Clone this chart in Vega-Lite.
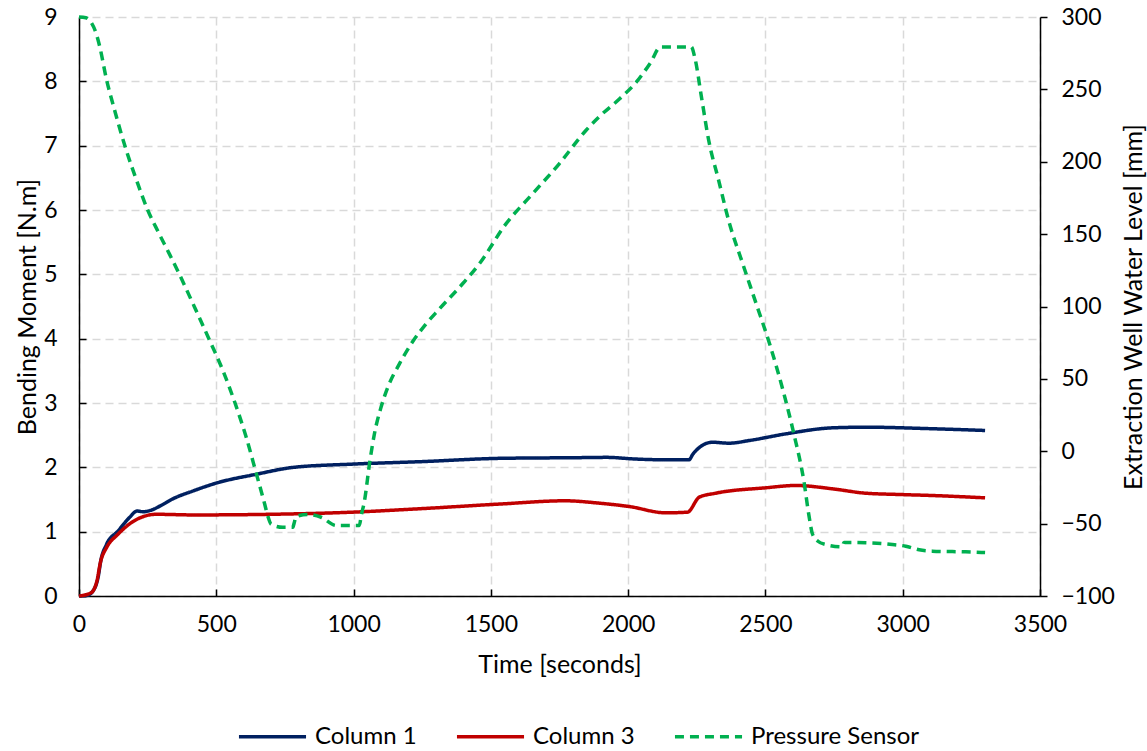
{
  "$schema": "https://vega.github.io/schema/vega-lite/v6.json",
  "width": 961,
  "height": 579,
  "autosize": {"type": "none"},
  "padding": {"left": 79, "top": 17, "right": 107, "bottom": 155},
  "background": "white",
  "config": {
    "font": "Lato",
    "view": {"stroke": null},
    "axis": {
      "labelFont": "Lato",
      "titleFont": "Lato",
      "labelFontSize": 23,
      "titleFontSize": 25,
      "titleFontWeight": "normal",
      "labelColor": "#000000",
      "titleColor": "#000000",
      "domainColor": "#000000",
      "domainWidth": 1.5,
      "tickColor": "#000000",
      "tickWidth": 1.5,
      "gridColor": "#D9D9D9",
      "gridDash": [8, 5],
      "gridWidth": 1.5,
      "format": "d",
      "labelFlush": false
    },
    "legend": {"labelFont": "Lato", "labelFontSize": 24, "labelColor": "#000000", "labelLimit": 400}
  },
  "data": {
    "values": [
      {"s": "Column 1", "t": 0, "v": 0},
      {"s": "Column 1", "t": 30, "v": 0.01},
      {"s": "Column 1", "t": 58, "v": 0.13},
      {"s": "Column 1", "t": 70, "v": 0.3},
      {"s": "Column 1", "t": 79, "v": 0.54},
      {"s": "Column 1", "t": 100, "v": 0.8},
      {"s": "Column 1", "t": 142, "v": 1.01},
      {"s": "Column 1", "t": 184, "v": 1.22},
      {"s": "Column 1", "t": 211, "v": 1.32},
      {"s": "Column 1", "t": 235, "v": 1.31},
      {"s": "Column 1", "t": 260, "v": 1.33},
      {"s": "Column 1", "t": 300, "v": 1.41},
      {"s": "Column 1", "t": 337, "v": 1.5},
      {"s": "Column 1", "t": 420, "v": 1.64},
      {"s": "Column 1", "t": 504, "v": 1.76},
      {"s": "Column 1", "t": 643, "v": 1.89},
      {"s": "Column 1", "t": 782, "v": 2.0},
      {"s": "Column 1", "t": 997, "v": 2.05},
      {"s": "Column 1", "t": 1256, "v": 2.09},
      {"s": "Column 1", "t": 1535, "v": 2.14},
      {"s": "Column 1", "t": 1813, "v": 2.15},
      {"s": "Column 1", "t": 1924, "v": 2.155},
      {"s": "Column 1", "t": 2022, "v": 2.13},
      {"s": "Column 1", "t": 2137, "v": 2.117},
      {"s": "Column 1", "t": 2222, "v": 2.117},
      {"s": "Column 1", "t": 2235, "v": 2.2},
      {"s": "Column 1", "t": 2247, "v": 2.26},
      {"s": "Column 1", "t": 2307, "v": 2.39},
      {"s": "Column 1", "t": 2368, "v": 2.375},
      {"s": "Column 1", "t": 2441, "v": 2.417},
      {"s": "Column 1", "t": 2574, "v": 2.52},
      {"s": "Column 1", "t": 2744, "v": 2.614},
      {"s": "Column 1", "t": 2865, "v": 2.624},
      {"s": "Column 1", "t": 3108, "v": 2.6},
      {"s": "Column 1", "t": 3300, "v": 2.573},
      {"s": "Column 3", "t": 0, "v": 0},
      {"s": "Column 3", "t": 44, "v": 0.05},
      {"s": "Column 3", "t": 65, "v": 0.23},
      {"s": "Column 3", "t": 79, "v": 0.54},
      {"s": "Column 3", "t": 100, "v": 0.75},
      {"s": "Column 3", "t": 142, "v": 0.96},
      {"s": "Column 3", "t": 184, "v": 1.12},
      {"s": "Column 3", "t": 225, "v": 1.22},
      {"s": "Column 3", "t": 281, "v": 1.27},
      {"s": "Column 3", "t": 420, "v": 1.26},
      {"s": "Column 3", "t": 699, "v": 1.27},
      {"s": "Column 3", "t": 977, "v": 1.3},
      {"s": "Column 3", "t": 1256, "v": 1.36},
      {"s": "Column 3", "t": 1535, "v": 1.43},
      {"s": "Column 3", "t": 1771, "v": 1.48},
      {"s": "Column 3", "t": 1895, "v": 1.443},
      {"s": "Column 3", "t": 2004, "v": 1.391},
      {"s": "Column 3", "t": 2137, "v": 1.293},
      {"s": "Column 3", "t": 2216, "v": 1.303},
      {"s": "Column 3", "t": 2259, "v": 1.536},
      {"s": "Column 3", "t": 2319, "v": 1.598},
      {"s": "Column 3", "t": 2501, "v": 1.682},
      {"s": "Column 3", "t": 2611, "v": 1.718},
      {"s": "Column 3", "t": 2744, "v": 1.666},
      {"s": "Column 3", "t": 2865, "v": 1.598},
      {"s": "Column 3", "t": 2986, "v": 1.578},
      {"s": "Column 3", "t": 3108, "v": 1.562},
      {"s": "Column 3", "t": 3300, "v": 1.526},
      {"s": "Pressure Sensor", "t": 0, "v": 300},
      {"s": "Pressure Sensor", "t": 25, "v": 299.5},
      {"s": "Pressure Sensor", "t": 45, "v": 296},
      {"s": "Pressure Sensor", "t": 63, "v": 288.4},
      {"s": "Pressure Sensor", "t": 75, "v": 280},
      {"s": "Pressure Sensor", "t": 100, "v": 257},
      {"s": "Pressure Sensor", "t": 130, "v": 235.4},
      {"s": "Pressure Sensor", "t": 172, "v": 208},
      {"s": "Pressure Sensor", "t": 210, "v": 187},
      {"s": "Pressure Sensor", "t": 251, "v": 166.3},
      {"s": "Pressure Sensor", "t": 290, "v": 151},
      {"s": "Pressure Sensor", "t": 330, "v": 136},
      {"s": "Pressure Sensor", "t": 366, "v": 122.1},
      {"s": "Pressure Sensor", "t": 421, "v": 99.5},
      {"s": "Pressure Sensor", "t": 476, "v": 76.5},
      {"s": "Pressure Sensor", "t": 524, "v": 55.8},
      {"s": "Pressure Sensor", "t": 567, "v": 34},
      {"s": "Pressure Sensor", "t": 609, "v": 9.7},
      {"s": "Pressure Sensor", "t": 646, "v": -15.6},
      {"s": "Pressure Sensor", "t": 676, "v": -36.3},
      {"s": "Pressure Sensor", "t": 688, "v": -45},
      {"s": "Pressure Sensor", "t": 700, "v": -50.5},
      {"s": "Pressure Sensor", "t": 742, "v": -52.5},
      {"s": "Pressure Sensor", "t": 779, "v": -52.5},
      {"s": "Pressure Sensor", "t": 783, "v": -50},
      {"s": "Pressure Sensor", "t": 791, "v": -45.1},
      {"s": "Pressure Sensor", "t": 833, "v": -43.7},
      {"s": "Pressure Sensor", "t": 882, "v": -45.6},
      {"s": "Pressure Sensor", "t": 937, "v": -51.3},
      {"s": "Pressure Sensor", "t": 1021, "v": -51.3},
      {"s": "Pressure Sensor", "t": 1028, "v": -44.4},
      {"s": "Pressure Sensor", "t": 1040, "v": -34},
      {"s": "Pressure Sensor", "t": 1058, "v": -8.7},
      {"s": "Pressure Sensor", "t": 1076, "v": 12.1},
      {"s": "Pressure Sensor", "t": 1100, "v": 30.4},
      {"s": "Pressure Sensor", "t": 1125, "v": 44.3},
      {"s": "Pressure Sensor", "t": 1167, "v": 60.4},
      {"s": "Pressure Sensor", "t": 1210, "v": 74.2},
      {"s": "Pressure Sensor", "t": 1264, "v": 88},
      {"s": "Pressure Sensor", "t": 1313, "v": 98.4},
      {"s": "Pressure Sensor", "t": 1397, "v": 115.7},
      {"s": "Pressure Sensor", "t": 1458, "v": 129.5},
      {"s": "Pressure Sensor", "t": 1555, "v": 157.1},
      {"s": "Pressure Sensor", "t": 1652, "v": 177.9},
      {"s": "Pressure Sensor", "t": 1749, "v": 198.6},
      {"s": "Pressure Sensor", "t": 1846, "v": 221.6},
      {"s": "Pressure Sensor", "t": 1894, "v": 231},
      {"s": "Pressure Sensor", "t": 1969, "v": 243.5},
      {"s": "Pressure Sensor", "t": 2031, "v": 255.3},
      {"s": "Pressure Sensor", "t": 2081, "v": 268.3},
      {"s": "Pressure Sensor", "t": 2118, "v": 279.3},
      {"s": "Pressure Sensor", "t": 2230, "v": 279.3},
      {"s": "Pressure Sensor", "t": 2243, "v": 271.8},
      {"s": "Pressure Sensor", "t": 2268, "v": 243.5},
      {"s": "Pressure Sensor", "t": 2293, "v": 215.2},
      {"s": "Pressure Sensor", "t": 2330, "v": 186.9},
      {"s": "Pressure Sensor", "t": 2367, "v": 158.7},
      {"s": "Pressure Sensor", "t": 2416, "v": 130.3},
      {"s": "Pressure Sensor", "t": 2466, "v": 102.1},
      {"s": "Pressure Sensor", "t": 2516, "v": 73.7},
      {"s": "Pressure Sensor", "t": 2566, "v": 40.7},
      {"s": "Pressure Sensor", "t": 2603, "v": 12.5},
      {"s": "Pressure Sensor", "t": 2640, "v": -20.6},
      {"s": "Pressure Sensor", "t": 2659, "v": -45},
      {"s": "Pressure Sensor", "t": 2671, "v": -57},
      {"s": "Pressure Sensor", "t": 2690, "v": -62},
      {"s": "Pressure Sensor", "t": 2720, "v": -64.5},
      {"s": "Pressure Sensor", "t": 2780, "v": -66},
      {"s": "Pressure Sensor", "t": 2786, "v": -63},
      {"s": "Pressure Sensor", "t": 2865, "v": -63.2},
      {"s": "Pressure Sensor", "t": 2962, "v": -64.4},
      {"s": "Pressure Sensor", "t": 3011, "v": -65.6},
      {"s": "Pressure Sensor", "t": 3060, "v": -68.1},
      {"s": "Pressure Sensor", "t": 3108, "v": -69},
      {"s": "Pressure Sensor", "t": 3229, "v": -69.5},
      {"s": "Pressure Sensor", "t": 3300, "v": -70}
    ]
  },
  "layer": [
    {
      "transform": [{"filter": "datum.s !== 'Pressure Sensor'"}],
      "mark": {"type": "line", "strokeWidth": 3.5, "interpolate": "monotone"},
      "encoding": {
        "x": {
          "field": "t", "type": "quantitative",
          "scale": {"domain": [0, 3500], "nice": false},
          "axis": {
            "values": [0, 500, 1000, 1500, 2000, 2500, 3000, 3500],
            "title": "Time [seconds]",
            "grid": true,
            "tickSize": -7,
            "labelPadding": 24,
            "titlePadding": 16
          }
        },
        "y": {
          "field": "v", "type": "quantitative",
          "scale": {"domain": [0, 9], "nice": false},
          "axis": {
            "values": [0, 1, 2, 3, 4, 5, 6, 7, 8, 9],
            "title": "Bending Moment [N.m]",
            "grid": true,
            "tickSize": -7,
            "labelPadding": 29,
            "titlePadding": 3
          }
        },
        "color": {
          "field": "s", "type": "nominal",
          "scale": {"domain": ["Column 1", "Column 3", "Pressure Sensor"], "range": ["#002060", "#C00000", "#00B050"]},
          "legend": {"title": null, "orient": "none", "direction": "horizontal", "legendX": 158, "legendY": 684, "symbolType": "stroke", "symbolSize": 4500, "symbolStrokeWidth": 3.5, "labelOffset": 7, "columnPadding": 32}
        },
        "strokeDash": {
          "field": "s", "type": "nominal",
          "scale": {"domain": ["Column 1", "Column 3", "Pressure Sensor"], "range": [[1, 0], [1, 0], [9, 6]]},
          "legend": {"title": null, "orient": "none", "direction": "horizontal", "legendX": 158, "legendY": 684, "symbolType": "stroke", "symbolSize": 4500, "symbolStrokeWidth": 3.5, "labelOffset": 7, "columnPadding": 32}
        }
      }
    },
    {
      "transform": [{"filter": "datum.s === 'Pressure Sensor'"}],
      "mark": {"type": "line", "strokeWidth": 3.5, "interpolate": "monotone"},
      "encoding": {
        "x": {"field": "t", "type": "quantitative", "scale": {"domain": [0, 3500], "nice": false}},
        "y": {
          "field": "v", "type": "quantitative",
          "scale": {"domain": [-100, 300], "nice": false},
          "axis": {
            "orient": "right",
            "values": [-100, -50, 0, 50, 100, 150, 200, 250, 300],
            "title": "Extraction Well Water Level [mm]",
            "grid": false,
            "tickSize": 7,
            "labelPadding": 14,
            "titleAngle": 270,
            "titlePadding": 32
          }
        },
        "color": {
          "field": "s", "type": "nominal",
          "scale": {"domain": ["Column 1", "Column 3", "Pressure Sensor"], "range": ["#002060", "#C00000", "#00B050"]},
          "legend": {"title": null, "orient": "none", "direction": "horizontal", "legendX": 158, "legendY": 684, "symbolType": "stroke", "symbolSize": 4500, "symbolStrokeWidth": 3.5, "labelOffset": 7, "columnPadding": 32}
        },
        "strokeDash": {
          "field": "s", "type": "nominal",
          "scale": {"domain": ["Column 1", "Column 3", "Pressure Sensor"], "range": [[1, 0], [1, 0], [9, 6]]},
          "legend": {"title": null, "orient": "none", "direction": "horizontal", "legendX": 158, "legendY": 684, "symbolType": "stroke", "symbolSize": 4500, "symbolStrokeWidth": 3.5, "labelOffset": 7, "columnPadding": 32}
        }
      }
    }
  ],
  "resolve": {"scale": {"y": "independent"}}
}
